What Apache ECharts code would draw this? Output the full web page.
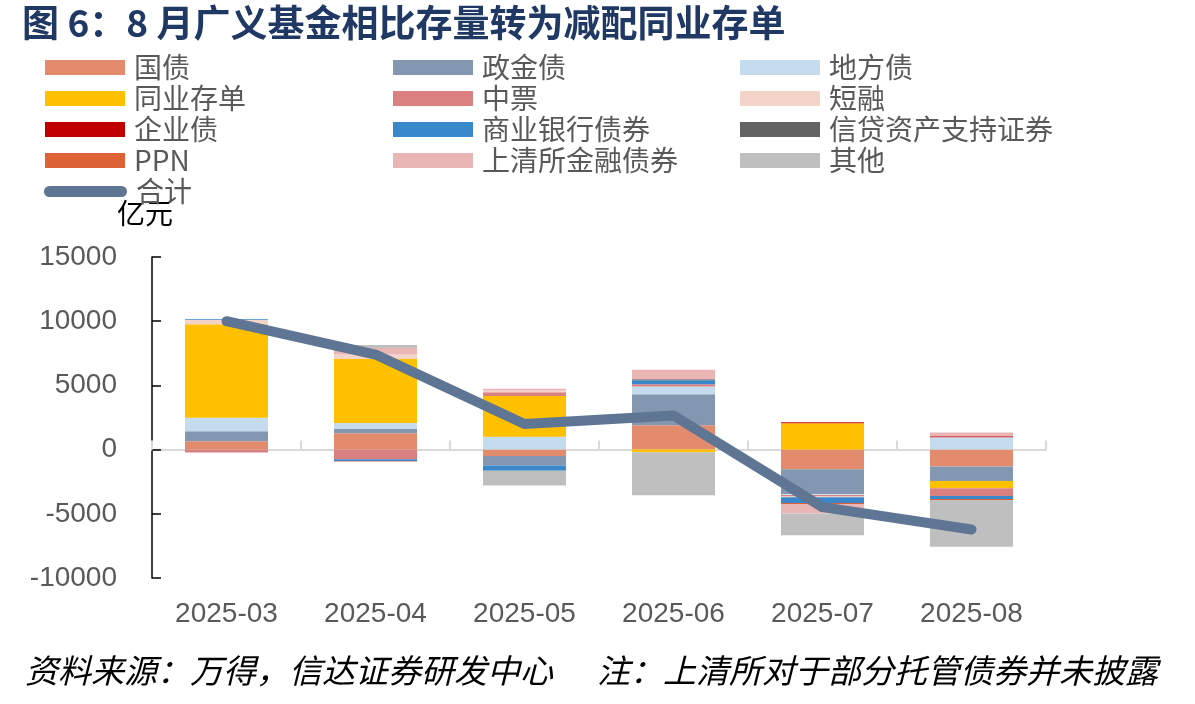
<!DOCTYPE html>
<html>
<head>
<meta charset="utf-8">
<script src="https://cdn.jsdelivr.net/npm/echarts@6/dist/echarts.min.js"></script>
<style>
html,body{margin:0;padding:0;background:#fff;}
#c{width:1195px;height:704px;}
</style>
</head>
<body>
<div id="c"></div>
<script>
const categories = ['2025-03','2025-04','2025-05','2025-06','2025-07','2025-08'];
const guozhai      = [650, 1270, -500, 1900, -1530, -1320];
const zhengjinzhai = [780, 340, -730, 2410, -1950, -1120];
const difangzhai   = [1060, 470, 1010, 600, -60, 960];
const tongyecundan = [7270, 4980, 3170, -210, 2050, -570];
const zhongpiao    = [-200, -750, 285, 180, -120, -600];
const duanrong     = [340, 340, 140, 0, -60, 0];
const qiyezhai     = [0, 0, 0, 0, 80, 80];
const shangyeyinhang = [60, -130, -415, 310, -440, -230];
const xindaizichan = [0, 0, 0, 80, 0, 0];
const ppn          = [0, -40, 0, 0, -80, -80];
const shangqingsuo = [-60, 520, 140, 730, -730, 300];
const qita         = [0, 230, -1160, -3350, -1700, -3640];
const heji         = [10000, 7400, 2000, 2650, -4480, -6220];
const yTicks = [-10000, -5000, 0, 5000, 10000, 15000];

const barDefs = [
  ['国债', guozhai, '#E38B6D'],
  ['政金债', zhengjinzhai, '#8497B0'],
  ['地方债', difangzhai, '#C5DCEF'],
  ['同业存单', tongyecundan, '#FFC000'],
  ['中票', zhongpiao, '#DA8080'],
  ['短融', duanrong, '#F4D3C8'],
  ['企业债', qiyezhai, '#C00000'],
  ['商业银行债券', shangyeyinhang, '#3A88CC'],
  ['信贷资产支持证券', xindaizichan, '#636363'],
  ['PPN', ppn, '#DD6236'],
  ['上清所金融债券', shangqingsuo, '#E9B5B5'],
  ['其他', qita, '#BFBFBF']
];

const series = barDefs.map(d => ({
  name: d[0], type: 'bar', stack: 'total', data: d[1],
  barWidth: 83, itemStyle: {color: d[2]}, xAxisIndex: 0
}));
series.push({
  name: '合计', type: 'line', data: heji, xAxisIndex: 0,
  symbol: 'none', z: 10,
  lineStyle: {color: '#5E7594', width: 10, cap: 'round', join: 'round'},
  itemStyle: {color: '#5E7594'}
});

const legendText = {fontSize: 28, color: '#595959', fontFamily: '"Noto Sans CJK SC", "Liberation Sans", sans-serif', lineHeight: 31, padding: [0,0,0,4]};
function mkLegend(names, left) {
  return {
    orient: 'vertical', left: left, top: 47, itemGap: 0,
    itemWidth: 80, itemHeight: 15, icon: 'rect',
    textStyle: legendText, selectedMode: false,
    data: names
  };
}

const chart = echarts.init(document.getElementById('c'));
chart.setOption({
  animation: false,
  backgroundColor: '#fff',
  graphic: [
    {type: 'text', left: 22, top: 4, style: {text: '图 6：8 月广义基金相比存量转为减配同业存单', fontSize: 37, fontWeight: 'bold', fill: '#1F3864', fontFamily: '"Noto Sans CJK SC", sans-serif'}},
    {type: 'text', left: 117, top: 199, style: {text: '亿元', fontSize: 28, fill: '#000', fontFamily: '"Noto Sans CJK SC", sans-serif'}},
    {type: 'text', left: 25, top: 654, style: {text: '资料来源：万得，信达证券研发中心', fontSize: 33, fontStyle: 'italic', fill: '#000', fontFamily: '"Noto Sans CJK SC", sans-serif'}},
    {type: 'text', left: 597, top: 654, style: {text: '注：上清所对于部分托管债券并未披露', fontSize: 33, fontStyle: 'italic', fill: '#000', fontFamily: '"Noto Sans CJK SC", sans-serif'}}
  ],
  legend: [
    mkLegend(['国债','同业存单','企业债','PPN'], 40),
    mkLegend(['政金债','中票','商业银行债券','上清所金融债券'], 388),
    mkLegend(['地方债','短融','信贷资产支持证券','其他'], 735),
    {orient: 'vertical', left: 39, top: 171, itemWidth: 83, itemHeight: 11,
     icon: 'path://M5.5,0 L77.5,0 A5.5,5.5 0 0 1 77.5,11 L5.5,11 A5.5,5.5 0 0 1 5.5,0 Z',
     textStyle: legendText, selectedMode: false, data: ['合计']}
  ],
  grid: {left: 152, right: 149, top: 257, bottom: 126, containLabel: false},
  xAxis: [
    {type: 'category', data: categories, position: 'bottom',
     axisLine: {onZero: true, lineStyle: {color: '#D9D9D9', width: 2}},
     axisTick: {show: true, inside: true, length: 9, lineStyle: {color: '#D9D9D9', width: 2}},
     axisLabel: {show: false}},
    {type: 'category', data: categories, position: 'bottom',
     axisLine: {show: false, onZero: false}, axisTick: {show: false},
     axisLabel: {fontSize: 28, color: '#595959', margin: 22, fontFamily: '"Liberation Sans", Arial, sans-serif'}}
  ],
  yAxis: {
    type: 'value', min: yTicks[0], max: yTicks[yTicks.length-1], interval: 5000,
    splitLine: {show: false},
    axisLine: {show: true, lineStyle: {color: '#000', width: 1.5}},
    axisTick: {show: true, inside: true, length: 9, lineStyle: {color: '#000', width: 1.5}},
    axisLabel: {fontSize: 28, color: '#595959', margin: 35, fontFamily: '"Liberation Sans", Arial, sans-serif',
      formatter: v => String(v)}
  },
  series: series
});
</script>
</body>
</html>
